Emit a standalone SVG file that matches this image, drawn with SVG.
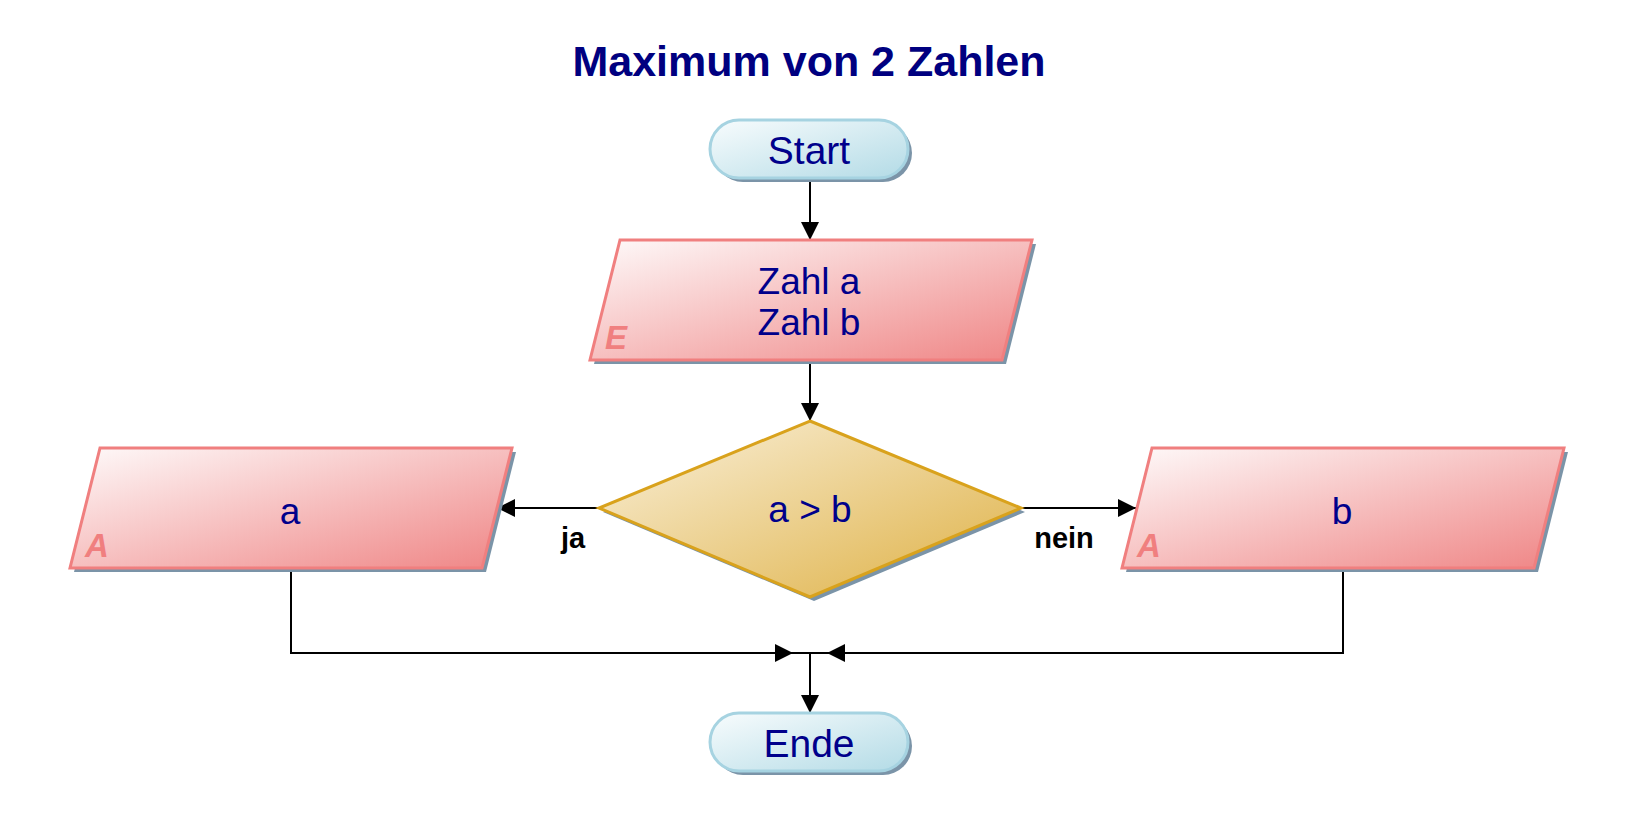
<svg xmlns="http://www.w3.org/2000/svg" width="1633" height="832" viewBox="0 0 1633 832">
  <defs>
    <linearGradient id="gTerm" x1="0" y1="0" x2="1" y2="1">
      <stop offset="0" stop-color="#f8fcfd"/>
      <stop offset="1" stop-color="#b3dbe6"/>
    </linearGradient>
    <linearGradient id="gIO" x1="0" y1="0" x2="1" y2="1">
      <stop offset="0" stop-color="#fefafa"/>
      <stop offset="1" stop-color="#ef8585"/>
    </linearGradient>
    <linearGradient id="gDec" x1="0" y1="0" x2="1" y2="1">
      <stop offset="0" stop-color="#faf1dc"/>
      <stop offset="1" stop-color="#deb043"/>
    </linearGradient>
    <marker id="arrow" markerUnits="userSpaceOnUse" markerWidth="18" markerHeight="18" refX="18" refY="9" orient="auto">
      <path d="M0,0 L18,9 L0,18 z" fill="#000"/>
    </marker>
    <style>
      .shadow { fill: #7b94a8; }
      .term { fill: url(#gTerm); stroke: #a6d3e1; stroke-width: 3; }
      .io { fill: url(#gIO); stroke: #f07f7f; stroke-width: 3; }
      .dec { fill: url(#gDec); stroke: #d9a21c; stroke-width: 3; }
      .txt { font-family: "Liberation Sans", Arial, sans-serif; font-size: 37px; fill: #00008b; text-anchor: middle; }
      .ttxt { font-family: "Liberation Sans", Arial, sans-serif; font-size: 39px; fill: #00008b; text-anchor: middle; }
      .tag { font-family: "Liberation Sans", Arial, sans-serif; font-size: 33px; font-weight: bold; font-style: italic; fill: #f07f7f; }
      .lbl { font-family: "Liberation Sans", Arial, sans-serif; font-size: 29px; font-weight: bold; fill: #000; text-anchor: middle; }
      .title { font-family: "Liberation Sans", Arial, sans-serif; font-size: 43px; font-weight: bold; fill: #000080; text-anchor: middle; }
      .conn { fill: none; stroke: #000; stroke-width: 2; }
    </style>
  </defs>

  <rect width="1633" height="832" fill="#fff"/>

  <text class="title" x="809" y="76">Maximum von 2 Zahlen</text>

  <!-- connectors -->
  <g id="connectors">
    <path class="conn" d="M810,178 L810,240" marker-end="url(#arrow)"/>
    <path class="conn" d="M810,360 L810,421" marker-end="url(#arrow)"/>
    <path class="conn" d="M599,508 L497,508" marker-end="url(#arrow)"/>
    <path class="conn" d="M1021,508 L1136,508" marker-end="url(#arrow)"/>
    <path class="conn" d="M291,568 L291,653 L793,653" marker-end="url(#arrow)"/>
    <path class="conn" d="M1343,568 L1343,653 L827,653" marker-end="url(#arrow)"/>
    <!-- junction bar between the two incoming arrows -->
    <path class="conn" d="M793,653 L827,653"/>
    <path class="conn" d="M810,653 L810,713" marker-end="url(#arrow)"/>
    <text class="lbl" x="573" y="548">ja</text>
    <text class="lbl" x="1064" y="548">nein</text>
  </g>

  <!-- start terminal -->
  <g id="start">
    <rect class="shadow" x="714" y="124" width="198" height="58" rx="29"/>
    <rect class="term" x="710" y="120" width="198" height="58" rx="29"/>
    <text class="ttxt" x="809" y="164">Start</text>
  </g>

  <!-- input: a, b -->
  <g id="input">
    <polygon class="shadow" points="624,244 1036,244 1006,364 594,364"/>
    <polygon class="io" points="620,240 1032,240 1002,360 590,360"/>
    <text class="tag" x="605" y="349">E</text>
    <text class="txt" x="809" y="294">Zahl a</text>
    <text class="txt" x="809" y="335">Zahl b</text>
  </g>

  <!-- decision -->
  <g id="decision">
    <polygon class="shadow" points="814,425 1025,512 814,601 603,512"/>
    <polygon class="dec" points="810,421 1021,508 810,597 599,508"/>
    <text class="txt" x="810" y="522">a &gt; b</text>
  </g>

  <!-- output a -->
  <g id="out-a">
    <polygon class="shadow" points="104,452 516,452 486,572 74,572"/>
    <polygon class="io" points="100,448 512,448 482,568 70,568"/>
    <text class="tag" x="85" y="557">A</text>
    <text class="txt" x="290" y="524">a</text>
  </g>

  <!-- output b -->
  <g id="out-b">
    <polygon class="shadow" points="1156,452 1568,452 1538,572 1126,572"/>
    <polygon class="io" points="1152,448 1564,448 1534,568 1122,568"/>
    <text class="tag" x="1137" y="557">A</text>
    <text class="txt" x="1342" y="524">b</text>
  </g>

  <!-- end terminal -->
  <g id="end">
    <rect class="shadow" x="714" y="717" width="198" height="58" rx="29"/>
    <rect class="term" x="710" y="713" width="198" height="58" rx="29"/>
    <text class="ttxt" x="809" y="757">Ende</text>
  </g>
</svg>
